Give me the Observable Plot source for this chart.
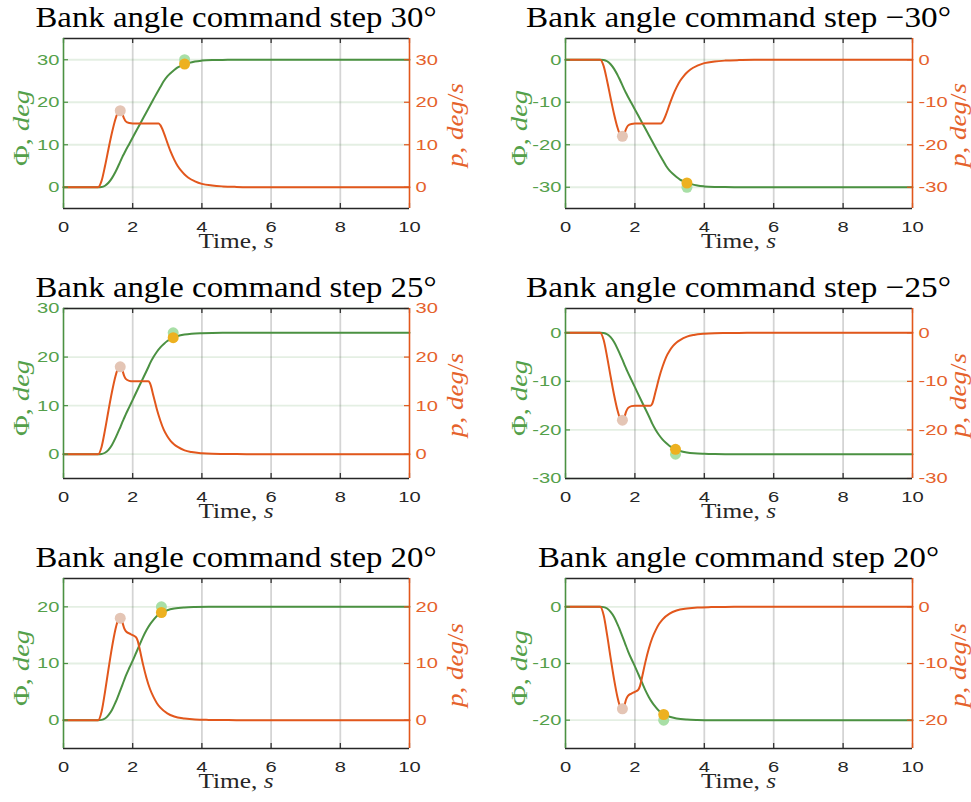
<!DOCTYPE html>
<html><head><meta charset="utf-8">
<script src="https://cdn.jsdelivr.net/npm/d3@7"></script>
<script src="https://cdn.jsdelivr.net/npm/@observablehq/plot@0.6"></script>
<style>
html,body{margin:0;padding:0;background:#fff;overflow:hidden;}
#wrap{position:relative;width:971px;height:802px;}
.panel{position:absolute;}
</style></head><body><div id="wrap"></div>
<script>
// ---------- data ----------
const xTicks = [0, 2, 4, 6, 8, 10];
const xDomain = [0, 10];

const time30 = [0,1.0,1.1,1.2,1.3,1.4,1.5,1.55,1.6,1.65,1.7,1.75,1.8,1.9,2.0,2.2,2.4,2.6,2.75,2.8,2.9,3.0,3.1,3.2,3.3,3.4,3.5,3.6,3.8,4.0,4.3,4.6,5.0,5.5,6,10];
const phi30 = [0,0,0.05,0.35,1.05,2.15,3.6,4.4,5.3,6.2,7.1,7.9,8.7,10.2,11.7,14.7,17.7,20.7,22.9,23.6,25.0,26.1,26.9,27.6,28.2,28.6,28.95,29.2,29.6,29.8,29.93,29.97,30,30,30,30];
const p30   = [0,0,1.5,5,9,12.8,16,17.2,17.9,18,17.3,16.2,15.5,15.1,15,15,15,15,15,14.6,12.8,10.5,8.3,6.5,5,3.9,3,2.3,1.4,0.8,0.4,0.2,0.08,0.02,0,0];

const timeM30 = [0,1.0,1.1,1.2,1.3,1.4,1.5,1.55,1.6,1.65,1.7,1.75,1.8,1.9,2.0,2.2,2.4,2.6,2.75,2.8,2.9,3.0,3.1,3.2,3.3,3.4,3.5,3.6,3.8,4.0,4.3,4.6,5.0,5.5,6,10];
const phiM30 = [0,0,-0.05,-0.35,-1.05,-2.15,-3.6,-4.4,-5.3,-6.2,-7.1,-7.9,-8.7,-10.2,-11.7,-14.7,-17.7,-20.7,-22.9,-23.6,-25.0,-26.1,-26.9,-27.6,-28.2,-28.6,-28.95,-29.2,-29.6,-29.8,-29.93,-29.97,-30,-30,-30,-30];
const pM30   = [0,0,-1.5,-5,-9,-12.8,-16,-17.2,-17.9,-18,-17.3,-16.2,-15.5,-15.1,-15,-15,-15,-15,-15,-14.6,-12.8,-10.5,-8.3,-6.5,-5,-3.9,-3,-2.3,-1.4,-0.8,-0.4,-0.2,-0.08,-0.02,0,0];

const time25 = [0,1.0,1.1,1.2,1.3,1.4,1.5,1.55,1.6,1.65,1.7,1.75,1.8,1.9,2.0,2.2,2.45,2.5,2.6,2.7,2.8,2.9,3.0,3.1,3.2,3.3,3.5,3.7,4.0,4.3,4.6,5.0,5.5,6,10];
const phi25 = [0,0,0.05,0.3,0.9,1.9,3.3,4.1,4.9,5.7,6.6,7.4,8.2,9.7,11.2,14.2,17.9,18.7,20.0,21.1,22.0,22.7,23.3,23.7,24.1,24.35,24.65,24.82,24.93,24.98,25,25,25,25,25];
const p25   = [0,0,1.5,5,9,12.8,16,17.2,17.9,18,17.3,16.2,15.5,15.1,15,15,15,14.6,12,9.2,6.9,5.0,3.7,2.7,2.0,1.5,0.8,0.45,0.2,0.08,0.04,0.02,0,0,0];

const timeM25 = [0,1.0,1.1,1.2,1.3,1.4,1.5,1.55,1.6,1.65,1.7,1.75,1.8,1.9,2.0,2.2,2.45,2.5,2.6,2.7,2.8,2.9,3.0,3.1,3.2,3.3,3.5,3.7,4.0,4.3,4.6,5.0,5.5,6,10];
const phiM25 = [0,0,-0.05,-0.3,-0.9,-1.9,-3.3,-4.1,-4.9,-5.7,-6.6,-7.4,-8.2,-9.7,-11.2,-14.2,-17.9,-18.7,-20.0,-21.1,-22.0,-22.7,-23.3,-23.7,-24.1,-24.35,-24.65,-24.82,-24.93,-24.98,-25,-25,-25,-25,-25];
const pM25   = [0,0,-1.5,-5,-9,-12.8,-16,-17.2,-17.9,-18,-17.3,-16.2,-15.5,-15.1,-15,-15,-15,-14.6,-12,-9.2,-6.9,-5.0,-3.7,-2.7,-2.0,-1.5,-0.8,-0.45,-0.2,-0.08,-0.04,-0.02,0,0,0];

const time20 = [0,1.0,1.1,1.2,1.3,1.4,1.5,1.55,1.6,1.65,1.7,1.75,1.8,1.9,2.0,2.1,2.15,2.2,2.3,2.4,2.5,2.6,2.7,2.8,3.0,3.2,3.5,3.8,4.2,4.6,5.0,6,10];
const phi20 = [0,0,0.05,0.3,0.9,1.8,3.1,3.8,4.6,5.4,6.2,7.0,7.8,9.2,10.5,11.9,12.6,13.3,14.7,15.9,16.9,17.7,18.4,18.85,19.4,19.7,19.9,19.97,20,20,20,20,20];
const p20   = [0,0,1.5,5,9,12.8,16,17.2,17.9,18,17.3,16.3,15.7,15.3,15,14.6,13.9,12.6,9.8,7.4,5.5,4.1,3.0,2.2,1.2,0.65,0.3,0.12,0.05,0.02,0,0,0];

const timeM20 = [0,1.0,1.1,1.2,1.3,1.4,1.5,1.55,1.6,1.65,1.7,1.75,1.8,1.9,2.0,2.1,2.15,2.2,2.3,2.4,2.5,2.6,2.7,2.8,3.0,3.2,3.5,3.8,4.2,4.6,5.0,6,10];
const phiM20 = [0,0,-0.05,-0.3,-0.9,-1.8,-3.1,-3.8,-4.6,-5.4,-6.2,-7.0,-7.8,-9.2,-10.5,-11.9,-12.6,-13.3,-14.7,-15.9,-16.9,-17.7,-18.4,-18.85,-19.4,-19.7,-19.9,-19.97,-20,-20,-20,-20,-20];
const pM20   = [0,0,-1.5,-5,-9,-12.8,-16,-17.2,-17.9,-18,-17.3,-16.3,-15.7,-15.3,-15,-14.6,-13.9,-12.6,-9.8,-7.4,-5.5,-4.1,-3.0,-2.2,-1.2,-0.65,-0.3,-0.12,-0.05,-0.02,0,0,0];

// markers: settling point (target, reached value) and peak roll rate
const titles = ["Bank angle command step 30°", "Bank angle command step \u221230°",
                "Bank angle command step 25°", "Bank angle command step \u221225°",
                "Bank angle command step 20°", "Bank angle command step 20°"];
const yDomains = [[-5, 35], [-35, 5], [-5, 30], [-30, 5], [-5, 25], [-25, 5]];
const yTicks = [[0, 10, 20, 30], [-30, -20, -10, 0], [0, 10, 20, 30], [-30, -20, -10, 0], [0, 10, 20], [-20, -10, 0]];
const markerTime = [3.5, 3.5, 3.17, 3.17, 2.83, 2.83];
const targetPhi = [30, -30, 25, -25, 20, -20];
const reachedPhi = [29, -29, 24, -24, 19, -19];
const peakTime = [1.64, 1.64, 1.64, 1.64, 1.64, 1.64];
const peakP = [18, -18, 18, -18, 18, -18];

const series = [
  [time30, phi30, p30], [timeM30, phiM30, pM30],
  [time25, phi25, p25], [timeM25, phiM25, pM25],
  [time20, phi20, p20], [timeM20, phiM20, pM20]
];

// ---------- drawing ----------
const GREEN = "#4b9142", ORANGE = "#e2571c", DARK = "#262626";
const GREEN_TXT = "#54a04a", ORANGE_TXT = "#e5622c";
const SERIF = "'Liberation Serif', 'Times New Roman', serif";
const SANS = "'Liberation Sans', Arial, sans-serif";
const TICK_STRETCH = 1.3;
const wrap = document.getElementById("wrap");

series.forEach(([time, phi, p], i) => {
  const col = i % 2, row = Math.floor(i / 2);
  const left = col === 0 ? 0 : 485;
  const width = col === 0 ? 485 : 486;
  const mL = col === 0 ? 63 : 80;
  const mR = col === 0 ? 76 : 59;
  const top = [0, 270, 540][row];
  const height = row === 2 ? 262 : 270;
  const ph = 170, mT = 38, mB = height - mT - ph;
  const pw = width - mL - mR;
  const rows = time.map((t, k) => ({t, phi: phi[k], p: p[k]}));
  const fmt = d => String(d);

  const svg = Plot.plot({
    width, height, marginLeft: mL, marginRight: mR, marginTop: mT, marginBottom: mB,
    style: {fontFamily: SANS, fontSize: "15.5px", background: "#fff", overflow: "visible"},
    x: {domain: xDomain},
    y: {domain: yDomains[i]},
    marks: [
      Plot.ruleX(xTicks.slice(1, -1), {stroke: "#000", strokeOpacity: 0.17, strokeWidth: 1.8}),
      Plot.ruleY(yTicks[i], {stroke: GREEN, strokeOpacity: 0.15, strokeWidth: 1.8}),
      Plot.line(rows, {x: "t", y: "phi", stroke: GREEN, strokeWidth: 2, curve: "monotone-x"}),
      Plot.line(rows, {x: "t", y: "p", stroke: ORANGE, strokeWidth: 2, curve: "monotone-x"}),
      Plot.dot([0], {x: () => markerTime[i], y: () => targetPhi[i], r: 5.5, fill: "#a8dfa6"}),
      Plot.dot([0], {x: () => markerTime[i], y: () => reachedPhi[i], r: 5.5, fill: "#edb120"}),
      Plot.dot([0], {x: () => peakTime[i], y: () => peakP[i], r: 5.5, fill: "#e4c5b5"}),
      // inward tick marks
      Plot.tickX(xTicks, {x: d => d, stroke: DARK, strokeWidth: 1.2, insetTop: ph - 5}),
      Plot.tickX(xTicks, {x: d => d, stroke: DARK, strokeWidth: 1.2, insetBottom: ph - 5}),
      Plot.tickY(yTicks[i], {y: d => d, stroke: GREEN, strokeWidth: 1.2, insetRight: pw - 5}),
      Plot.tickY(yTicks[i], {y: d => d, stroke: ORANGE, strokeWidth: 1.2, insetLeft: pw - 5}),
      // box
      Plot.ruleY([yDomains[i][0], yDomains[i][1]], {stroke: DARK, strokeWidth: 1.6}),
      Plot.ruleX([xDomain[0]], {stroke: GREEN, strokeWidth: 1.6}),
      Plot.ruleX([xDomain[1]], {stroke: ORANGE, strokeWidth: 1.6}),
      Plot.axisX({ticks: xTicks, anchor: "bottom", tickSize: 0, tickPadding: 12, color: DARK, label: null, fontSize: 15.5, tickFormat: fmt}),
      Plot.axisY({ticks: yTicks[i], anchor: "left", tickSize: 0, tickPadding: 4, color: GREEN_TXT, label: null, fontSize: 15.5, tickFormat: fmt}),
      Plot.axisY({ticks: yTicks[i], anchor: "right", tickSize: 0, tickPadding: 6, color: ORANGE_TXT, label: null, fontSize: 15.5, tickFormat: fmt})
    ]
  });

  const s = d3.select(svg);
  // the reference's glyphs are horizontally stretched: widen tick labels about their anchor
  s.selectAll("g[aria-label$='tick label'] text").each(function () {
    const X = +this.getAttribute("x") || 0, Y = +this.getAttribute("y") || 0;
    const t = this.getAttribute("transform") || "";
    this.setAttribute("transform", `${t} translate(${X},${Y}) scale(${TICK_STRETCH},1) translate(${-X},${-Y})`);
  });
  // title
  s.append("text")
    .attr("x", mL + pw / 2).attr("y", mT - 11)
    .attr("text-anchor", "middle")
    .attr("font-family", SERIF).attr("font-size", 30)
    .attr("textLength", titles[i].includes("\u2212") ? 425 : 401)
    .attr("lengthAdjust", "spacingAndGlyphs")
    .attr("fill", "#000")
    .text(titles[i]);
  // x label
  const xl = s.append("text")
    .attr("x", mL + pw / 2).attr("y", mT + ph + 40)
    .attr("text-anchor", "middle")
    .attr("font-family", SERIF).attr("font-size", 22).attr("fill", DARK)
    .attr("textLength", 75).attr("lengthAdjust", "spacingAndGlyphs");
  xl.append("tspan").text("Time, ");
  xl.append("tspan").attr("font-style", "italic").text("s");
  // left y label
  const yl = s.append("text")
    .attr("transform", `translate(${mL - (col === 0 ? 34 : 38)},${mT + ph / 2 + 5}) rotate(-90)`)
    .attr("text-anchor", "middle")
    .attr("font-family", SERIF).attr("font-size", 23).attr("fill", GREEN_TXT)
    .attr("textLength", 76).attr("lengthAdjust", "spacingAndGlyphs");
  yl.append("tspan").text("\u03A6, ");
  yl.append("tspan").attr("font-style", "italic").text("deg");
  // right y label
  const yr = s.append("text")
    .attr("transform", `translate(${mL + pw + 54},${mT + ph / 2 + 2}) rotate(-90)`)
    .attr("text-anchor", "middle")
    .attr("font-family", SERIF).attr("font-size", 23).attr("fill", ORANGE_TXT)
    .attr("textLength", 84).attr("lengthAdjust", "spacingAndGlyphs");
  yr.append("tspan").attr("font-style", "italic").text("p");
  yr.append("tspan").text(", ");
  yr.append("tspan").attr("font-style", "italic").text("deg");
  yr.append("tspan").text("/");
  yr.append("tspan").attr("font-style", "italic").text("s");

  const div = document.createElement("div");
  div.className = "panel";
  div.style.left = left + "px";
  div.style.top = top + "px";
  div.appendChild(svg);
  wrap.appendChild(div);
});
</script>
</body></html>
